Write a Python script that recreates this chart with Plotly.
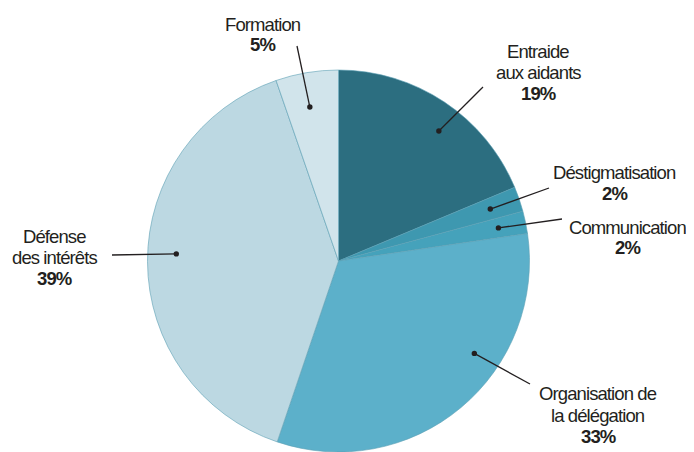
import math
import plotly.graph_objects as go

# ---- data ----
categories = ["Entraide aux aidants", "Déstigmatisation", "Communication",
              "Organisation de la délégation", "Défense des intérêts", "Formation"]
values = [18.7, 2.1, 1.9, 32.5, 39.5, 5.3]
pct_labels = ["19%", "2%", "2%", "33%", "39%", "5%"]
label_lines = [["Entraide", "aux aidants"], ["Déstigmatisation"], ["Communication"],
               ["Organisation de", "la délégation"], ["Défense", "des intérêts"], ["Formation"]]

# ---- style / layout config ----
OFF = 8  # page body margin
W, H = 694 - OFF, 452 - OFF
colors = ["#2c6e80", "#3e98b0", "#45a2bb", "#5cb0ca", "#bcd8e2", "#d1e4eb"]
TXT = "#231f20"
FONT = "Liberation Sans Narrow, Arial Narrow, Liberation Sans, Arial, sans-serif"
FS = 18.5
LS = "-0.9px"
# pie placement (reference pixels)
top_px = 70
r_px = (H + OFF - top_px) / 2
cx_px = 338.5
cy_px = top_px + r_px
# label layout (reference px): (center x, first baseline, spacing, leader end x, end y, angle offset, radius frac)
label_cfg = [
    (538, 57.3, 21, 483, 87, 4, 0.86),
    (614, 178.3, 21, 549, 188, 0, 0.84),
    (627, 234, 19.5, 562, 219, 0, 0.855),
    (598, 400, 21.5, 530, 384, -16, 0.86),
    (55, 242.7, 20.8, 112, 255, 2.7, 0.85),
    (262.7, 30.7, 20, 297, 46, -1, 0.82),
]

def px2paper(x, y):
    return (x - OFF) / W, 1 - (y - OFF) / H

fig = go.Figure()
fig.add_trace(go.Pie(
    labels=categories, values=values, sort=False, direction="clockwise",
    rotation=0, textinfo="none", hoverinfo="label+percent",
    marker=dict(colors=colors, line=dict(color="#5c9fb3", width=0.6)),
    domain=dict(x=[(cx_px - r_px - OFF) / W, (cx_px + r_px - OFF) / W],
                y=[0, 1 - (top_px - OFF) / H]),
    showlegend=False,
))

total = sum(values)
shapes = []
annotations = []
cum = 0.0
for i, v in enumerate(values):
    start = cum / total * 360
    cum += v
    end = cum / total * 360
    cxl, base, sp, ex, ey, aoff, rf = label_cfg[i]
    ang = math.radians((start + end) / 2 + aoff)
    dx = cx_px + rf * r_px * math.sin(ang)
    dy = cy_px - rf * r_px * math.cos(ang)
    x0, y0 = px2paper(dx, dy)
    x1, y1 = px2paper(ex, ey)
    shapes.append(dict(type="line", xref="paper", yref="paper", x0=x0, y0=y0, x1=x1, y1=y1,
                       line=dict(color=TXT, width=1.3), layer="above"))
    rr = 2.7
    a0, b0 = px2paper(dx - rr, dy - rr)
    a1, b1 = px2paper(dx + rr, dy + rr)
    shapes.append(dict(type="circle", xref="paper", yref="paper", x0=a0, y0=b1, x1=a1, y1=b0,
                       fillcolor=TXT, line=dict(width=0), layer="above"))
    lines = label_lines[i] + [pct_labels[i]]
    for j, t in enumerate(lines):
        bl = base + j * sp
        bold = (j == len(lines) - 1)
        tx, ty = px2paper(cxl, bl - 0.33 * FS)
        inner = f"<b>{t}</b>" if bold else t
        annotations.append(dict(
            x=tx, y=ty, xref="paper", yref="paper", xanchor="center", yanchor="middle",
            text=f'<span style="letter-spacing:{LS}">{inner}</span>', showarrow=False,
            font=dict(family=FONT, size=FS, color=TXT),
        ))

fig.update_layout(
    width=W, height=H, margin=dict(l=0, r=0, t=0, b=0),
    paper_bgcolor="white", plot_bgcolor="white",
    shapes=shapes, annotations=annotations,
)
fig.write_html("out.html")
